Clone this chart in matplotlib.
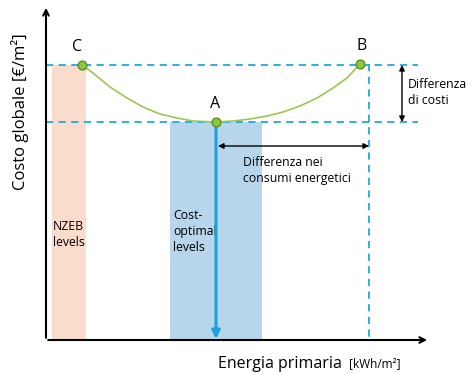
import matplotlib.pyplot as plt
from matplotlib.patches import Rectangle

plt.rcParams['font.family'] = ['Open Sans', 'DejaVu Sans']

# points C, A, B (pixel-like units, y grows downward)
pt_labels = ['C', 'A', 'B']
pt_x = [82, 216, 360]
pt_y = [65, 122, 64]

# global cost curve
curve_x = [82, 93, 110, 127, 143, 160, 177, 193, 216, 233, 250, 267, 283, 300, 317, 333, 347, 360]
curve_y = [65, 73, 87, 98, 107, 114, 118, 121, 122, 121, 119, 116, 112, 106, 98, 88, 78, 64]

# shaded level bands: (x0, x1, top)
nzeb_band = [52, 86, 65]
opt_band = [170, 262, 122]

axis_x0, axis_y0 = 46, 340
axis_top, axis_right = 5, 430

green = '#8DC63F'
cyan = '#1FA8E0'

fig = plt.figure(figsize=(4.74, 3.74), dpi=100)
ax = fig.add_axes([0, 0, 1, 1])
ax.set_xlim(0, 474)
ax.set_ylim(374, 0)
ax.axis('off')

ax.add_patch(Rectangle((nzeb_band[0], nzeb_band[2]), nzeb_band[1] - nzeb_band[0],
                       axis_y0 - nzeb_band[2], color='#F9DCCB', lw=0, zorder=1))
ax.add_patch(Rectangle((opt_band[0], opt_band[2]), opt_band[1] - opt_band[0],
                       axis_y0 - opt_band[2], color='#B7D6EB', lw=0, zorder=1))

# dashed guide lines
ax.plot([axis_x0, 418], [pt_y[0], pt_y[0]], ls=(0, (4, 3)), color=cyan, lw=1.3, zorder=2)
ax.plot([axis_x0, 418], [pt_y[1], pt_y[1]], ls=(0, (4, 3)), color=cyan, lw=1.3, zorder=2)
ax.plot([369, 369], [pt_y[2], axis_y0], ls=(0, (4, 3)), color=cyan, lw=1.3, zorder=2)

# axes arrows
ax.annotate('', xy=(axis_x0, axis_top), xytext=(axis_x0, axis_y0 + 0.6),
            arrowprops=dict(arrowstyle='->', lw=1.5, color='black'))
ax.annotate('', xy=(axis_right, axis_y0), xytext=(axis_x0 - 0.6, axis_y0),
            arrowprops=dict(arrowstyle='->', lw=1.5, color='black'))

# curve and points
ax.plot(curve_x, curve_y, color='#9CC74E', lw=1.2, zorder=3)
ax.scatter(pt_x, pt_y, s=40, color=green, edgecolor='#5E8E22', lw=1, zorder=5)
for lab, x, y, dx in zip(pt_labels, pt_x, pt_y, [-5, -1, 2]):
    ax.text(x + dx, y - 10, lab, fontsize=11.5, ha='center', va='bottom', zorder=6)

# blue arrow from A down
ax.annotate('', xy=(pt_x[1], axis_y0 - 1), xytext=(pt_x[1], pt_y[1]),
            arrowprops=dict(arrowstyle='-|>', lw=2.2, color='#1BA1E2',
                            mutation_scale=12, shrinkA=0, shrinkB=0), zorder=4)

# difference arrows
ax.annotate('', xy=(402, pt_y[0]), xytext=(402, pt_y[1]),
            arrowprops=dict(arrowstyle='<|-|>', lw=1, color='black',
                            mutation_scale=8, shrinkA=0, shrinkB=0))
ax.annotate('', xy=(218, 146), xytext=(369, 146),
            arrowprops=dict(arrowstyle='<|-|>', lw=1, color='black',
                            mutation_scale=8, shrinkA=0, shrinkB=0))

ax.text(408, 92, 'Differenza\ndi costi', fontsize=8.8, va='center', ha='left',
        linespacing=1.3)
ax.text(243, 170, 'Differenza nei\nconsumi energetici', fontsize=8.8, va='center',
        ha='left', linespacing=1.3)
ax.text(53, 234, 'NZEB\nlevels', fontsize=8.8, va='center', ha='left', linespacing=1.3)
ax.text(173, 231, 'Cost-\noptimal\nlevels', fontsize=8.8, va='center', ha='left',
        linespacing=1.3, zorder=3)

# axis titles
ax.text(20, 112, 'Costo globale [€/m²]', fontsize=12, rotation=90,
        ha='center', va='center')
ax.text(218, 364, 'Energia primaria', fontsize=11.5, ha='left', va='center')
ax.text(349, 364, '[kWh/m²]', fontsize=8.5, ha='left', va='center')

fig.savefig('out.png', dpi=100)
